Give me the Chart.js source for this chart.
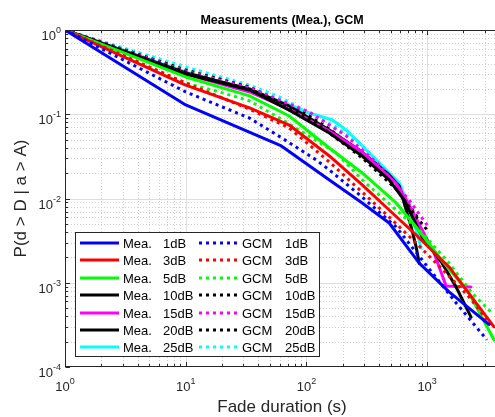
<!DOCTYPE html>
<html><head><meta charset="utf-8">
<script src="https://cdn.jsdelivr.net/npm/chart.js@4.4.1/dist/chart.umd.min.js"></script>
<style>html,body{margin:0;padding:0;background:#fff;}canvas{display:block;}</style>
</head><body>
<canvas id="c" width="495" height="417"></canvas>
<script>
// ---------- data ----------
const thresholds = ['1dB', '3dB', '5dB', '10dB', '15dB', '20dB', '25dB'];
const seriesColors = ['#0000ff', '#ff0000', '#00ff00', '#000000', '#ff00ff', '#000000', '#00ffff'];

const xMajorTicks = [1, 10, 100, 1000];
const xMajorExp = ['0', '1', '2', '3'];
const yMajorTicks = [1, 0.1, 0.01, 0.001, 0.0001];
const yMajorExp = ['0', '-1', '-2', '-3', '-4'];
const xMin = 1, xMax = 3650, yMin = 1e-4, yMax = 1;

// Measurements [duration s, probability]
const mea1dB = [[1,1],[10,0.129],[62,0.042],[155,0.0166],[290,0.00885],[485,0.00512],[860,0.00171],[1520,0.00078],[3250,0.00032]];
const mea3dB = [[1,1],[10,0.222],[33.8,0.119],[72,0.0745],[155,0.032],[290,0.0145],[485,0.0073],[811,0.00369],[1520,0.00154],[3580,0.0003]];
const mea5dB = [[1,1],[10,0.277],[33.8,0.165],[72,0.0954],[155,0.0398],[290,0.0201],[554,0.00885],[811,0.00459],[1256,0.00202],[2223,0.000756],[3580,0.00021]];
const mea10dB = [[1,1],[10,0.30],[33.8,0.194],[72,0.112],[155,0.0599],[290,0.0319],[485,0.0166],[646,0.0096],[910,0.00349],[1330,0.00171],[1738,0.00089],[2310,0.00039]];
const mea15dB = [[1,1],[10,0.30],[33.8,0.184],[72,0.115],[155,0.0633],[290,0.0356],[554,0.0152],[710,0.0084],[910,0.00423],[1143,0.00225],[1435,0.000915],[2310,0.00089]];
const mea20dB = [[1,1],[10,0.309],[33.8,0.1995],[72,0.125],[155,0.065],[290,0.0356],[485,0.019],[587,0.01407],[634,0.0096],[738,0.00459],[811,0.00266],[859,0.00171]];
const mea25dB = [[1,1],[10,0.317],[33.8,0.194],[72,0.129],[106,0.1035],[164,0.0855],[214,0.065],[274,0.0456],[401,0.0264],[587,0.0153],[710,0.00792],[811,0.00423],[892,0.00258]];

// GCM model
const gcm1dB = [[1,1],[10,0.184],[33.8,0.09],[63,0.052],[121,0.0286],[155,0.0218],[290,0.0104],[554,0.00459],[910,0.00186],[1740,0.000575],[3130,0.00021]];
const gcm3dB = [[1,1],[10,0.235],[33.8,0.115],[72,0.069],[155,0.0271],[290,0.0119],[514,0.00556],[811,0.00296],[1435,0.0013],[2223,0.00068],[3380,0.000316]];
const gcm5dB = [[1,1],[10,0.235],[19,0.184],[33.8,0.144],[60,0.09],[177,0.0347],[290,0.0166],[554,0.0073],[910,0.00389],[1520,0.00171],[2355,0.000756],[3445,0.000437]];
const gcm10dB = [[1,1],[10,0.317],[33.8,0.194],[60,0.136],[106,0.0879],[155,0.0599],[290,0.0303],[554,0.013],[827,0.00587],[1000,0.00423]];
const gcm15dB = [[1,1],[10,0.326],[33.8,0.205],[106,0.106],[214,0.0552],[401,0.025],[710,0.0096],[1000,0.00484]];
const gcm20dB = [[1,1],[10,0.335],[33.8,0.21],[106,0.0954],[155,0.0668],[290,0.0328],[554,0.0145],[827,0.00603]];
const gcm25dB = [[1,1],[10,0.364],[33.8,0.222],[60,0.160],[106,0.1035],[170,0.0726],[274,0.0456],[401,0.0264],[621,0.0137]];

const meaSeries = [mea1dB, mea3dB, mea5dB, mea10dB, mea15dB, mea20dB, mea25dB];
const gcmSeries = [gcm1dB, gcm3dB, gcm5dB, gcm10dB, gcm15dB, gcm20dB, gcm25dB];

// ---------- styles ----------
const FONT = '"Liberation Sans", Arial, Helvetica, sans-serif';
const DOT = [3, 4];
const AXIS_COLOR = '#262626';

const datasets = [];
thresholds.forEach((t, i) => {
  datasets.push({
    label: 'Mea. ' + t, kind: 'mea', thr: t,
    data: meaSeries[i].map(([x, y]) => ({x, y})),
    borderColor: seriesColors[i], borderWidth: 3, borderJoinStyle: 'round', borderCapStyle: 'round',
    pointRadius: 0, fill: false
  });
  datasets.push({
    label: 'GCM ' + t, kind: 'gcm', thr: t,
    data: gcmSeries[i].map(([x, y]) => ({x, y})),
    borderColor: seriesColors[i], borderWidth: 3, borderDash: DOT, borderCapStyle: 'butt',
    pointRadius: 0, fill: false
  });
});

function minorValues(majors, lo, hi) {
  const out = [];
  majors.forEach(d => { for (let k = 2; k <= 9; k++) { const v = d * k; if (v > lo && v < hi) out.push(v); } });
  return out;
}
function seg(ctx, x1, y1, x2, y2) { ctx.beginPath(); ctx.moveTo(x1, y1); ctx.lineTo(x2, y2); ctx.stroke(); }

const matlabStyle = {
  id: 'matlabStyle',
  beforeDatasetsDraw(chart) {
    const {ctx, chartArea: a, scales: {x, y}} = chart;
    ctx.save();
    ctx.lineWidth = 1;
    ctx.strokeStyle = '#cfcfcf';
    ctx.setLineDash([1, 2]);
    minorValues(xMajorTicks, xMin, xMax).forEach(v => { const p = Math.round(x.getPixelForValue(v)) + 0.5; seg(ctx, p, a.top, p, a.bottom); });
    minorValues(yMajorTicks, yMin, yMax).forEach(v => { const p = Math.round(y.getPixelForValue(v)) + 0.5; seg(ctx, a.left, p, a.right, p); });
    ctx.setLineDash([]);
    ctx.strokeStyle = '#dedede';
    xMajorTicks.forEach(v => { if (v > xMin) { const p = Math.round(x.getPixelForValue(v)) + 0.5; seg(ctx, p, a.top, p, a.bottom); } });
    yMajorTicks.forEach(v => { if (v > yMin && v < yMax) { const p = Math.round(y.getPixelForValue(v)) + 0.5; seg(ctx, a.left, p, a.right, p); } });
    ctx.restore();
  },
  afterDatasetsDraw(chart) {
    const {ctx, chartArea: a, scales: {x, y}} = chart;
    ctx.save();
    ctx.strokeStyle = AXIS_COLOR; ctx.lineWidth = 1;
    const L = a.left + 0.5, B = Math.round(a.bottom) - 0.5, T = a.top + 0.5;
    seg(ctx, L, a.top, L, a.bottom);
    seg(ctx, a.left, B, a.right, B);
    seg(ctx, a.left, T, a.right, T);
    const majL = 4.5, minL = 2.5;
    xMajorTicks.forEach(v => { const p = Math.round(x.getPixelForValue(v)) + 0.5; seg(ctx, p, B, p, B - majL); seg(ctx, p, T, p, T + majL); });
    minorValues(xMajorTicks, xMin, xMax).forEach(v => { const p = Math.round(x.getPixelForValue(v)) + 0.5; seg(ctx, p, B, p, B - minL); seg(ctx, p, T, p, T + minL); });
    yMajorTicks.forEach(v => { const p = Math.round(y.getPixelForValue(v)) + 0.5; seg(ctx, L, p, L + majL, p); });
    minorValues(yMajorTicks, yMin, yMax).forEach(v => { const p = Math.round(y.getPixelForValue(v)) + 0.5; seg(ctx, L, p, L + minL, p); });

    ctx.fillStyle = AXIS_COLOR;
    ctx.textBaseline = 'alphabetic';
    xMajorTicks.forEach((v, i) => {
      const p = x.getPixelForValue(v);
      ctx.font = '13px ' + FONT; const wb = ctx.measureText('10').width;
      ctx.font = '9px ' + FONT; const we = ctx.measureText(xMajorExp[i]).width;
      const x0 = p - (wb + we) / 2;
      ctx.font = '13px ' + FONT; ctx.textAlign = 'left'; ctx.fillText('10', x0, a.bottom + 24);
      ctx.font = '9px ' + FONT; ctx.fillText(xMajorExp[i], x0 + wb, a.bottom + 17);
    });
    yMajorTicks.forEach((v, i) => {
      const p = y.getPixelForValue(v);
      ctx.font = '9px ' + FONT; const we = ctx.measureText(yMajorExp[i]).width;
      ctx.textAlign = 'right';
      ctx.fillText(yMajorExp[i], a.left - 4, p + 3);
      ctx.font = '13px ' + FONT;
      ctx.fillText('10', a.left - 4 - we, p + 10);
    });

    ctx.font = '17px ' + FONT; ctx.textAlign = 'center';
    ctx.fillText('Fade duration (s)', 282, 412);
    ctx.save(); ctx.translate(26, (a.top + a.bottom) / 2); ctx.rotate(-Math.PI / 2);
    ctx.fillText('P(d > D | a > A)', 0, 0); ctx.restore();
    ctx.fillStyle = '#000'; ctx.font = 'bold 12.5px ' + FONT;
    ctx.fillText('Measurements (Mea.), GCM', 282, 24);

    const bx = 75.5, by = 232.5, bw = 244, bh = 124;
    ctx.fillStyle = '#fff'; ctx.fillRect(bx, by, bw, bh);
    ctx.strokeStyle = AXIS_COLOR; ctx.lineWidth = 1; ctx.strokeRect(bx, by, bw, bh);
    ctx.font = '13px ' + FONT; ctx.textBaseline = 'middle'; ctx.textAlign = 'left';
    thresholds.forEach((t, i) => {
      const ry = Math.round(243 + i * 17.4);
      const mea = datasets[2 * i], gcm = datasets[2 * i + 1];
      ctx.lineWidth = 3; ctx.strokeStyle = mea.borderColor; ctx.setLineDash([]); ctx.lineCap = 'butt';
      seg(ctx, 80, ry, 119, ry);
      ctx.strokeStyle = gcm.borderColor; ctx.setLineDash(DOT);
      seg(ctx, 199, ry, 237, ry);
      ctx.setLineDash([]);
      ctx.fillStyle = '#000';
      ctx.fillText('Mea.', 123, ry + 1);
      ctx.fillText(t, 163, ry + 1);
      ctx.fillText('GCM', 242, ry + 1);
      ctx.fillText(t, 285, ry + 1);
    });
    ctx.restore();
  }
};

new Chart(document.getElementById('c'), {
  type: 'line',
  data: { datasets },
  options: {
    responsive: false, animation: false, devicePixelRatio: 1,
    layout: { padding: { left: 65, top: 30, right: 0, bottom: 50 } },
    plugins: { legend: { display: false }, tooltip: { enabled: false }, title: { display: false } },
    elements: { point: { radius: 0 }, line: { tension: 0 } },
    scales: {
      x: { type: 'logarithmic', min: xMin, max: xMax, display: false },
      y: { type: 'logarithmic', min: yMin, max: yMax, display: false }
    }
  },
  plugins: [matlabStyle]
});
</script>
</body></html>
